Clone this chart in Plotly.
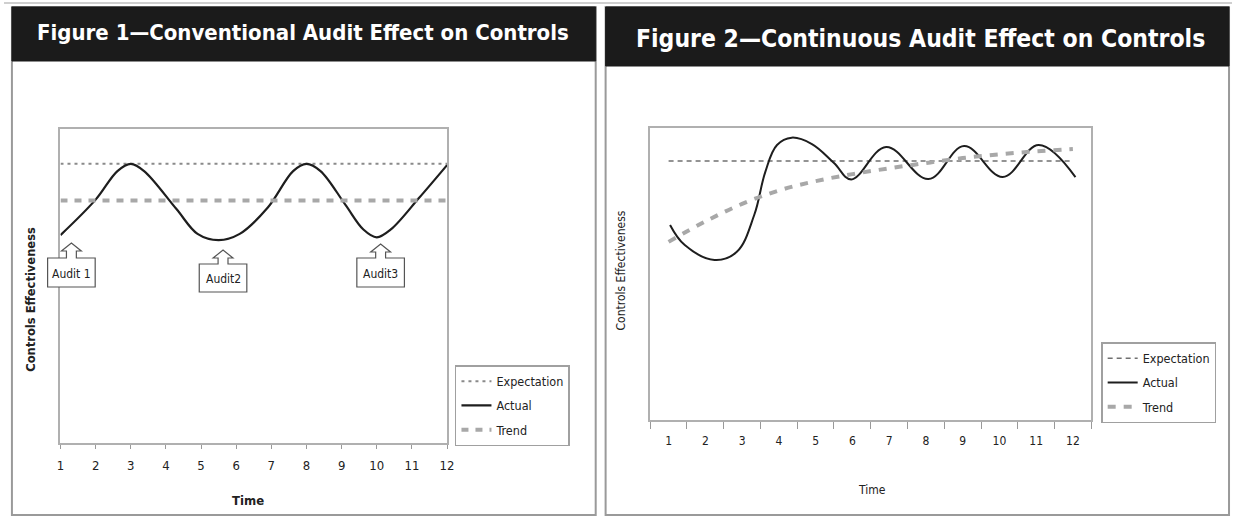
import plotly.graph_objects as go

W, H = 1239, 522

# ---------------- data ----------------
time_ticks = list(range(1, 13))
tick_labels = [str(t) for t in time_ticks]

# Figure 1 (conventional audit)
fig1_expect_x = [1, 12]
fig1_expect_y = [8.89, 8.89]
fig1_trend_x = [1, 12]
fig1_trend_y = [7.72, 7.72]
fig1_actual_x = [1, 2.0, 2.62, 3, 3.38, 4.3, 4.9, 5.5, 6.1, 6.9, 7.62, 8, 8.4, 9.1, 9.62, 10, 10.4, 11.2, 12]
fig1_actual_y = [6.62, 7.75, 8.66, 8.89, 8.66, 7.45, 6.66, 6.46, 6.66, 7.50, 8.66, 8.89, 8.66, 7.60, 6.80,
                 6.55, 6.80, 7.80, 8.85]
audit_labels = ["Audit 1", "Audit2", "Audit3"]

# Figure 2 (continuous audit)
fig2_expect_x = [1, 12]
fig2_expect_y = [8.87, 8.87]
fig2_trend_x = [1, 2, 3, 4, 5, 6, 7, 8, 9, 10, 11, 12]
fig2_trend_y = [6.10, 6.80, 7.40, 7.86, 8.18, 8.42, 8.62, 8.80, 8.97, 9.10, 9.20, 9.28]
fig2_actual_x = [1.04, 1.44, 2.25, 2.85, 3.33, 3.63, 3.95, 4.35, 4.9, 5.5, 5.97, 6.92, 8.07, 9.04, 10.09,
                 11.07, 12.07]
fig2_actual_y = [6.68, 5.99, 5.48, 5.75, 7.02, 8.49, 9.42, 9.67, 9.45, 8.80, 8.24, 9.35, 8.25, 9.38, 8.32,
                 9.42, 8.32]

series_names = ["Expectation", "Actual", "Trend"]

NARROW = "DejaVu Sans Condensed, Liberation Sans Narrow, Arial Narrow, sans-serif"
WIDEBOLD = "DejaVu Sans, Verdana, sans-serif"


def fx(p):
    return p / W


def fy(p):
    return 1 - p / H


fig = go.Figure()

# ---- Figure 1 traces ----
fig.add_trace(go.Scatter(x=fig1_expect_x, y=fig1_expect_y, mode="lines", name=series_names[0],
                         line=dict(color="#8a8a8a", width=2, dash="3px,4px"),
                         xaxis="x", yaxis="y", legend="legend", legendgroup="a1"))
fig.add_trace(go.Scatter(x=fig1_actual_x, y=fig1_actual_y, mode="lines", name=series_names[1],
                         line=dict(color="#1e1e1e", width=2.2, shape="spline", smoothing=1),
                         xaxis="x", yaxis="y", legend="legend", legendgroup="a2"))
fig.add_trace(go.Scatter(x=fig1_trend_x, y=fig1_trend_y, mode="lines", name=series_names[2],
                         line=dict(color="#a8a8a8", width=4, dash="7px,7px"),
                         xaxis="x", yaxis="y", legend="legend", legendgroup="a3"))

# ---- Figure 2 traces ----
fig.add_trace(go.Scatter(x=fig2_expect_x, y=fig2_expect_y, mode="lines", name=series_names[0],
                         line=dict(color="#707070", width=1.5, dash="5px,4px"),
                         xaxis="x2", yaxis="y2", legend="legend2", legendgroup="b1"))
fig.add_trace(go.Scatter(x=fig2_actual_x, y=fig2_actual_y, mode="lines", name=series_names[1],
                         line=dict(color="#1e1e1e", width=2, shape="spline", smoothing=1.1),
                         xaxis="x2", yaxis="y2", legend="legend2", legendgroup="b2"))
fig.add_trace(go.Scatter(x=fig2_trend_x, y=fig2_trend_y, mode="lines", name=series_names[2],
                         line=dict(color="#a8a8a8", width=4, dash="8px,8px", shape="spline"),
                         xaxis="x2", yaxis="y2", legend="legend2", legendgroup="b3"))

shapes = []
annotations = []

# thin rule along the very top
shapes.append(dict(type="line", xref="paper", yref="paper", x0=0, x1=1, y0=fy(3), y1=fy(3),
                   line=dict(color="#cfcfcf", width=2), layer="below"))

# panel frames and title bars
for (x0, x1, bar_bottom) in [(8, 597, 61), (607, 1236, 66)]:
    shapes.append(dict(type="rect", xref="paper", yref="paper", x0=fx(x0), x1=fx(x1), y0=fy(515), y1=fy(7),
                       line=dict(color="#9a9a9a", width=2), fillcolor="white", layer="below"))
    shapes.append(dict(type="rect", xref="paper", yref="paper", x0=fx(x0), x1=fx(x1), y0=fy(bar_bottom), y1=fy(7),
                       line=dict(color="#1b1b1b", width=1), fillcolor="#1b1b1b", layer="below"))

annotations.append(dict(text="<b>Figure 1—Conventional Audit Effect on Controls</b>", xref="paper", yref="paper",
                        x=fx(302), y=fy(33), showarrow=False, xanchor="center", yanchor="middle",
                        font=dict(family=NARROW, size=22, color="white")))
annotations.append(dict(text="<b>Figure 2—Continuous Audit Effect on Controls</b>", xref="paper", yref="paper",
                        x=fx(925), y=fy(39), showarrow=False, xanchor="center", yanchor="middle",
                        font=dict(family=NARROW, size=24.5, color="white")))

# axis titles
annotations.append(dict(text="<b>Controls Effectiveness</b>", xref="paper", yref="paper", x=fx(27), y=fy(299),
                        showarrow=False, textangle=-90, xanchor="center", yanchor="middle",
                        font=dict(family=WIDEBOLD, size=11.5, color="#222")))
annotations.append(dict(text="<b>Time</b>", xref="paper", yref="paper", x=fx(246), y=fy(500),
                        showarrow=False, xanchor="center", yanchor="middle",
                        font=dict(family=NARROW, size=13, color="#222")))
annotations.append(dict(text="Controls Effectiveness", xref="paper", yref="paper", x=fx(623), y=fy(270),
                        showarrow=False, textangle=-90, xanchor="center", yanchor="middle",
                        font=dict(family=NARROW, size=12, color="#222")))
annotations.append(dict(text="Time", xref="paper", yref="paper", x=fx(876), y=fy(490),
                        showarrow=False, xanchor="center", yanchor="middle",
                        font=dict(family=NARROW, size=12, color="#222")))

# audit callouts (up-arrow callout boxes)
callout_px = [(68, 243, 258, 287), (221, 250, 264, 292), (380, 244, 258, 287)]
for (cx, apex, top, bottom), lab in zip(callout_px, audit_labels):
    bw = 24
    path = (f"M {fx(cx - bw)},{fy(top)} L {fx(cx - 5)},{fy(top)} L {fx(cx - 5)},{fy(apex + 8)} "
            f"L {fx(cx - 10)},{fy(apex + 8)} L {fx(cx)},{fy(apex)} L {fx(cx + 10)},{fy(apex + 8)} "
            f"L {fx(cx + 5)},{fy(apex + 8)} L {fx(cx + 5)},{fy(top)} L {fx(cx + bw)},{fy(top)} "
            f"L {fx(cx + bw)},{fy(bottom)} L {fx(cx - bw)},{fy(bottom)} Z")
    shapes.append(dict(type="path", xref="paper", yref="paper", path=path,
                       line=dict(color="#555", width=1.2), fillcolor="white"))
    annotations.append(dict(text=lab, xref="paper", yref="paper", x=fx(cx), y=fy((top + bottom) / 2 + 1),
                            showarrow=False, xanchor="center", yanchor="middle",
                            font=dict(family=NARROW, size=12, color="#222")))

fig.update_layout(
    width=W, height=H, margin=dict(l=0, r=0, t=0, b=0),
    paper_bgcolor="white", plot_bgcolor="white",
    shapes=shapes, annotations=annotations,
    xaxis=dict(domain=[fx(57), fx(447)], range=[1, 12], tickmode="array", tickvals=time_ticks,
               ticktext=tick_labels, ticks="outside", ticklen=4, tickcolor="#999", showgrid=False,
               zeroline=False, showline=True, linecolor="#b0b0b0", linewidth=1.5, mirror=True,
               ticklabelstandoff=6,
               tickfont=dict(family=NARROW, size=13, color="#222"), anchor="y"),
    yaxis=dict(domain=[fy(443), fy(129)], range=[0, 10], showticklabels=False, ticks="", showgrid=False,
               zeroline=False, showline=True, linecolor="#b0b0b0", linewidth=1.5, mirror=True, anchor="x"),
    xaxis2=dict(domain=[fx(652), fx(1097)], range=[0.5, 12.5], tickmode="array", tickvals=time_ticks,
                ticktext=tick_labels, ticks="", showgrid=False, zeroline=False, showline=True,
                linecolor="#b0b0b0", linewidth=1.5, mirror=True, ticklabelstandoff=9,
                minor=dict(tickmode="array", tickvals=[i + 0.5 for i in range(0, 13)], ticks="outside",
                           ticklen=7, tickcolor="#999", showgrid=False),
                tickfont=dict(family=NARROW, size=12, color="#222"), anchor="y2"),
    yaxis2=dict(domain=[fy(420), fy(128)], range=[0, 10], showticklabels=False, ticks="", showgrid=False,
                zeroline=False, showline=True, linecolor="#b0b0b0", linewidth=1.5, mirror=True, anchor="x2"),
    legend=dict(x=fx(455), y=fy(365), xanchor="left", yanchor="top", bordercolor="#a0a0a0", borderwidth=1.5,
                bgcolor="white", font=dict(family=NARROW, size=12.5, color="#222"), tracegroupgap=5,
                traceorder="grouped"),
    legend2=dict(x=fx(1107), y=fy(342), xanchor="left", yanchor="top", bordercolor="#a0a0a0", borderwidth=1.5,
                 bgcolor="white", font=dict(family=NARROW, size=12.5, color="#222"), tracegroupgap=5,
                 traceorder="grouped"),
    showlegend=True,
)

fig.write_html("out.html", config={"displayModeBar": False},
               post_script="document.body.style.margin='0';")
